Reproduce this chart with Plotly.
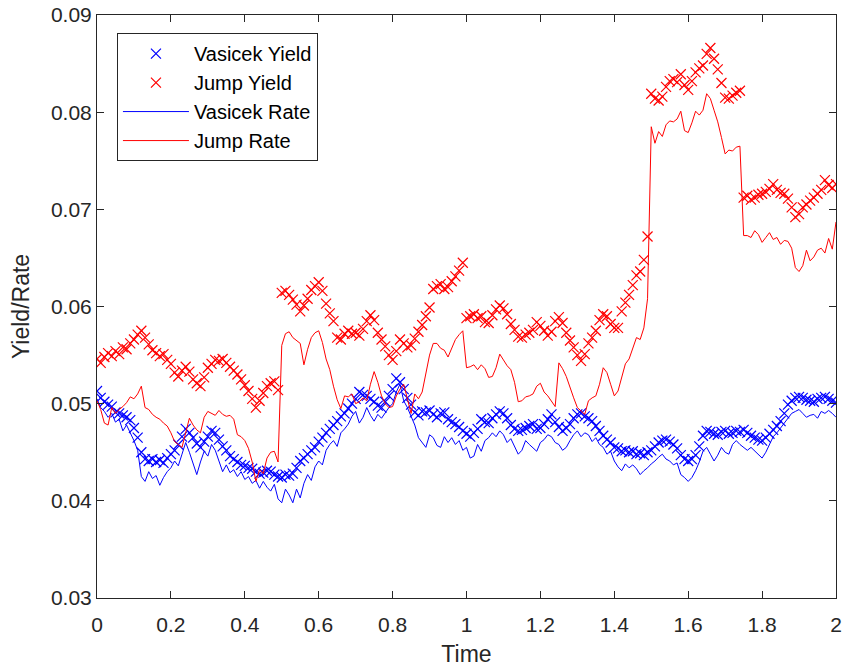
import plotly.graph_objects as go

# Time grid (0 to 2, step 0.01)
time = [round(i * 0.01, 2) for i in range(201)]

vasicek_yield = [
    0.0513, 0.0506, 0.0502, 0.0499, 0.0497, 0.0491, 0.0490, 0.0488, 0.0486, 0.0483,
    0.0475, 0.0465, 0.0450, 0.0443, 0.0441, 0.0443, 0.0440, 0.0442, 0.0439, 0.0444,
    0.0448, 0.0452, 0.0458, 0.0466, 0.0474, 0.0470, 0.0465, 0.0459, 0.0455, 0.0461,
    0.0466, 0.0472, 0.0470, 0.0463, 0.0456, 0.0452, 0.0446, 0.0443, 0.0440, 0.0437,
    0.0436, 0.0434, 0.0433, 0.0430, 0.0428, 0.0429, 0.0431, 0.0430, 0.0427, 0.0425,
    0.0424, 0.0427, 0.0426, 0.0428, 0.0434, 0.0441, 0.0444, 0.0448, 0.0452, 0.0455,
    0.0461, 0.0465, 0.0470, 0.0474, 0.0478, 0.0482, 0.0487, 0.0490, 0.0495, 0.0500,
    0.0505, 0.0512, 0.0509, 0.0508, 0.0505, 0.0502, 0.0498, 0.0496, 0.0502, 0.0508,
    0.0515, 0.0526, 0.0522, 0.0515, 0.0506, 0.0499, 0.0491, 0.0488, 0.0492, 0.0491,
    0.0493, 0.0489, 0.0486, 0.0490, 0.0491, 0.0484, 0.0481, 0.0479, 0.0476, 0.0472,
    0.0469, 0.0466, 0.0470, 0.0474, 0.0484, 0.0481, 0.0480, 0.0485, 0.0489, 0.0492,
    0.0490, 0.0485, 0.0478, 0.0474, 0.0472, 0.0473, 0.0475, 0.0477, 0.0479, 0.0474,
    0.0475, 0.0479, 0.0484, 0.0489, 0.0481, 0.0476, 0.0472, 0.0475, 0.0479, 0.0485,
    0.0489, 0.0490, 0.0487, 0.0485, 0.0482, 0.0477, 0.0472, 0.0467, 0.0463, 0.0460,
    0.0455, 0.0454, 0.0451, 0.0452, 0.0450, 0.0451, 0.0448, 0.0449, 0.0447, 0.0450,
    0.0452, 0.0456, 0.0460, 0.0462, 0.0463, 0.0461, 0.0458, 0.0454, 0.0447, 0.0443,
    0.0441, 0.0443, 0.0447, 0.0456, 0.0467, 0.0472, 0.0471, 0.0469, 0.0468, 0.0471,
    0.0472, 0.0469, 0.0470, 0.0472, 0.0471, 0.0473, 0.0470, 0.0467, 0.0465, 0.0463,
    0.0462, 0.0465, 0.0469, 0.0473, 0.0477, 0.0482, 0.0490, 0.0499, 0.0503, 0.0506,
    0.0507, 0.0506, 0.0504, 0.0503, 0.0502, 0.0505, 0.0506, 0.0507, 0.0505, 0.0503,
    0.0501,
]

jump_yield = [
    0.0546, 0.0542, 0.0548, 0.0552, 0.0549, 0.0554, 0.0551, 0.0558, 0.0556, 0.0562,
    0.0566, 0.0571, 0.0575, 0.0568, 0.0561, 0.0555, 0.0552, 0.0549, 0.0551, 0.0545,
    0.0541, 0.0532, 0.0528, 0.0534, 0.0538, 0.0533, 0.0525, 0.0521, 0.0518, 0.0527,
    0.0537, 0.0541, 0.0545, 0.0544, 0.0546, 0.0542, 0.0538, 0.0534, 0.0530, 0.0525,
    0.0519, 0.0513, 0.0505, 0.0496, 0.0503, 0.0511, 0.0518, 0.0521, 0.0523, 0.0514,
    0.0614, 0.0616, 0.0612, 0.0607, 0.0602, 0.0595, 0.0601, 0.0608, 0.0617, 0.0621,
    0.0625, 0.0616, 0.0603, 0.0593, 0.0585, 0.0568, 0.0566, 0.0572, 0.0575, 0.0572,
    0.0573, 0.0570, 0.0577, 0.0585, 0.0591, 0.0586, 0.0573, 0.0566, 0.0559, 0.0550,
    0.0545, 0.0554, 0.0566, 0.0562, 0.0558, 0.0560, 0.0567, 0.0574, 0.0581, 0.0590,
    0.0599, 0.0618, 0.0621, 0.0623, 0.0618, 0.0620, 0.0626, 0.0631, 0.0637, 0.0645,
    0.0588, 0.0590, 0.0592, 0.0588, 0.0590, 0.0584, 0.0583, 0.0591, 0.0597, 0.0601,
    0.0598, 0.0592, 0.0582, 0.0576, 0.0569, 0.0568, 0.0571, 0.0573, 0.0576, 0.0584,
    0.0580, 0.0575, 0.0570, 0.0574, 0.0585, 0.0589, 0.0583, 0.0573, 0.0565, 0.0558,
    0.0550, 0.0544, 0.0551, 0.0562, 0.0568, 0.0575, 0.0586, 0.0592, 0.0590, 0.0582,
    0.0578, 0.0578, 0.0595, 0.0604, 0.0612, 0.0622, 0.0632, 0.0636, 0.0648, 0.0672,
    0.0819, 0.0814, 0.0812, 0.0816, 0.0826, 0.0832, 0.0834, 0.0831, 0.0839, 0.0828,
    0.0823, 0.0832, 0.0841, 0.0845, 0.0848, 0.0860, 0.0866, 0.0855, 0.0844, 0.0830,
    0.0815, 0.0814, 0.0817, 0.0820, 0.0822, 0.0712, 0.0714, 0.0710, 0.0712, 0.0715,
    0.0716, 0.0718, 0.0721, 0.0726, 0.0720, 0.0717, 0.0716, 0.0711, 0.0702, 0.0692,
    0.0695, 0.0702, 0.0705, 0.0709, 0.0712, 0.0716, 0.0720, 0.0730, 0.0725, 0.0722,
    0.0726,
]

vasicek_rate = [
    0.0505, 0.0496, 0.0492, 0.0486, 0.0490, 0.0481, 0.0484, 0.0472, 0.0478, 0.0470,
    0.0462, 0.0452, 0.0425, 0.0420, 0.0430, 0.0423, 0.0426, 0.0416, 0.0424, 0.0430,
    0.0434, 0.0441, 0.0436, 0.0448, 0.0460, 0.0450, 0.0438, 0.0427, 0.0440, 0.0451,
    0.0446, 0.0458, 0.0452, 0.0440, 0.0430, 0.0437, 0.0429, 0.0432, 0.0425, 0.0430,
    0.0422, 0.0425, 0.0418, 0.0421, 0.0413, 0.0420, 0.0414, 0.0410, 0.0417, 0.0402,
    0.0398, 0.0412, 0.0406, 0.0398, 0.0412, 0.0403, 0.0418, 0.0427, 0.0421, 0.0435,
    0.0441, 0.0437, 0.0452, 0.0458, 0.0462, 0.0456, 0.0470, 0.0474, 0.0479, 0.0487,
    0.0492, 0.0480, 0.0486, 0.0496, 0.0488, 0.0482, 0.0489, 0.0485, 0.0491, 0.0496,
    0.0500, 0.0512, 0.0520, 0.0503, 0.0496, 0.0486, 0.0478, 0.0465, 0.0460, 0.0455,
    0.0468, 0.0465, 0.0457, 0.0455, 0.0466, 0.0460, 0.0465, 0.0458, 0.0462, 0.0452,
    0.0455, 0.0444, 0.0446, 0.0458, 0.0451, 0.0462, 0.0465, 0.0470, 0.0466, 0.0472,
    0.0468, 0.0460, 0.0464, 0.0455, 0.0448, 0.0452, 0.0462, 0.0458, 0.0454, 0.0451,
    0.0460, 0.0463, 0.0468, 0.0466, 0.0460, 0.0458, 0.0452, 0.0455, 0.0462, 0.0468,
    0.0472, 0.0466, 0.0470, 0.0468, 0.0461, 0.0465, 0.0458, 0.0455, 0.0448, 0.0451,
    0.0441, 0.0435, 0.0431, 0.0438, 0.0434, 0.0437, 0.0433, 0.0427, 0.0431, 0.0434,
    0.0438, 0.0441, 0.0445, 0.0448, 0.0443, 0.0441, 0.0437, 0.0439, 0.0427, 0.0424,
    0.0420, 0.0424, 0.0431, 0.0440, 0.0451, 0.0455, 0.0448, 0.0441, 0.0447, 0.0455,
    0.0450, 0.0448, 0.0458, 0.0462, 0.0458, 0.0455, 0.0452, 0.0455, 0.0451, 0.0448,
    0.0444, 0.0450, 0.0458, 0.0466, 0.0470, 0.0475, 0.0480, 0.0486, 0.0490, 0.0492,
    0.0494, 0.0490, 0.0486, 0.0488, 0.0489, 0.0485, 0.0492, 0.0490, 0.0493, 0.0490,
    0.0486,
]

jump_rate = [
    0.0503, 0.0494, 0.0480, 0.0478, 0.0496, 0.0490, 0.0494, 0.0497, 0.0501, 0.0507,
    0.0505, 0.0510, 0.0518, 0.0496, 0.0494, 0.0489, 0.0486, 0.0484, 0.0480, 0.0477,
    0.0470, 0.0461, 0.0458, 0.0455, 0.0470, 0.0485, 0.0478, 0.0473, 0.0470, 0.0486,
    0.0492, 0.0490, 0.0488, 0.0493, 0.0489, 0.0487, 0.0488, 0.0484, 0.0468, 0.0466,
    0.0462, 0.0454, 0.0440, 0.0420, 0.0432, 0.0428, 0.0444, 0.0450, 0.0451, 0.0440,
    0.0560, 0.0572, 0.0574, 0.0568, 0.0565, 0.0562, 0.0540, 0.0556, 0.0568, 0.0573,
    0.0575, 0.0563, 0.0546, 0.0535, 0.0518, 0.0504, 0.0495, 0.0508, 0.0507, 0.0510,
    0.0500, 0.0502, 0.0506, 0.0503, 0.0520, 0.0533, 0.0522, 0.0508, 0.0500, 0.0496,
    0.0497, 0.0508, 0.0515, 0.0520, 0.0505, 0.0490, 0.0510, 0.0505, 0.0512, 0.0530,
    0.0550, 0.0562, 0.0562, 0.0557, 0.0555, 0.0548, 0.0558, 0.0566, 0.0571, 0.0575,
    0.0537, 0.0538, 0.0540, 0.0535, 0.0540, 0.0536, 0.0527, 0.0528, 0.0537, 0.0551,
    0.0545, 0.0539, 0.0535, 0.0522, 0.0502, 0.0503, 0.0507, 0.0508, 0.0510, 0.0518,
    0.0521, 0.0512, 0.0508, 0.0502, 0.0497, 0.0542, 0.0536, 0.0528, 0.0516, 0.0506,
    0.0496, 0.0492, 0.0489, 0.0503, 0.0506, 0.0508, 0.0520, 0.0537, 0.0532, 0.0520,
    0.0508, 0.0513, 0.0527, 0.0541, 0.0546, 0.0556, 0.0568, 0.0566, 0.0578, 0.0608,
    0.0785, 0.0768, 0.0780, 0.0775, 0.0787, 0.0791, 0.0790, 0.0793, 0.0801, 0.0781,
    0.0779, 0.0789, 0.0801, 0.0797, 0.0802, 0.0819, 0.0814, 0.0802, 0.0790, 0.0774,
    0.0757, 0.0761, 0.0760, 0.0764, 0.0765, 0.0673, 0.0673, 0.0671, 0.0678, 0.0674,
    0.0666, 0.0671, 0.0676, 0.0669, 0.0671, 0.0664, 0.0668, 0.0667, 0.0660, 0.0640,
    0.0636, 0.0642, 0.0658, 0.0647, 0.0651, 0.0658, 0.0660, 0.0655, 0.0670, 0.0659,
    0.0687,
]

x_ticks = [0, 0.2, 0.4, 0.6, 0.8, 1, 1.2, 1.4, 1.6, 1.8, 2]
y_ticks = [0.03, 0.04, 0.05, 0.06, 0.07, 0.08, 0.09]

BLUE = "#0000FF"
RED = "#FF0000"
AXC = "#262626"
FONT = "Liberation Sans, Arial, sans-serif"

fig = go.Figure()
fig.add_trace(go.Scatter(
    x=time, y=vasicek_yield, mode="markers", name="Vasicek Yield",
    legendgroup="a",
    marker=dict(symbol="x-thin", size=10, line=dict(color=BLUE, width=1.2), color=BLUE),
))
fig.add_trace(go.Scatter(
    x=time, y=jump_yield, mode="markers", name="Jump Yield",
    legendgroup="b",
    marker=dict(symbol="x-thin", size=10, line=dict(color=RED, width=1.2), color=RED),
))
fig.add_trace(go.Scatter(
    x=time, y=vasicek_rate, mode="lines", name="Vasicek Rate",
    legendgroup="c",
    line=dict(color=BLUE, width=1),
))
fig.add_trace(go.Scatter(
    x=time, y=jump_rate, mode="lines", name="Jump Rate",
    legendgroup="d",
    line=dict(color=RED, width=1),
))

axis_common = dict(
    showgrid=False, zeroline=False, showline=True, linecolor=AXC, linewidth=1,
    mirror="ticks", ticks="inside", ticklen=7, tickwidth=1, tickcolor=AXC,
    tickfont=dict(family=FONT, size=21, color=AXC), automargin=False,
)

fig.update_layout(
    width=843, height=667,
    margin=dict(l=97, r=7, t=15, b=69),
    paper_bgcolor="white", plot_bgcolor="white",
    font=dict(family=FONT, color=AXC),
    xaxis=dict(
        range=[0, 2], tickvals=x_ticks, ticktext=[f"{v:g}" for v in x_ticks],
        ticklabelstandoff=8,
        title=dict(text="Time", font=dict(family=FONT, size=23, color=AXC), standoff=10),
        **axis_common,
    ),
    yaxis=dict(
        range=[0.03, 0.09], tickvals=y_ticks, ticktext=[f"{v:.2f}" for v in y_ticks],
        title=dict(text="Yield/Rate", font=dict(family=FONT, size=23, color=AXC), standoff=14),
        **axis_common,
    ),
    legend=dict(
        x=0.027, y=0.969, xanchor="left", yanchor="top",
        bgcolor="white", bordercolor=AXC, borderwidth=1,
        font=dict(family=FONT, size=20, color="#000000"),
        traceorder="grouped", tracegroupgap=0, itemwidth=66,
    ),
    showlegend=True,
)

fig.write_html(
    "out.html",
    config={"displayModeBar": False},
    post_script="document.body.style.margin='0px';document.body.style.overflow='hidden';",
)
